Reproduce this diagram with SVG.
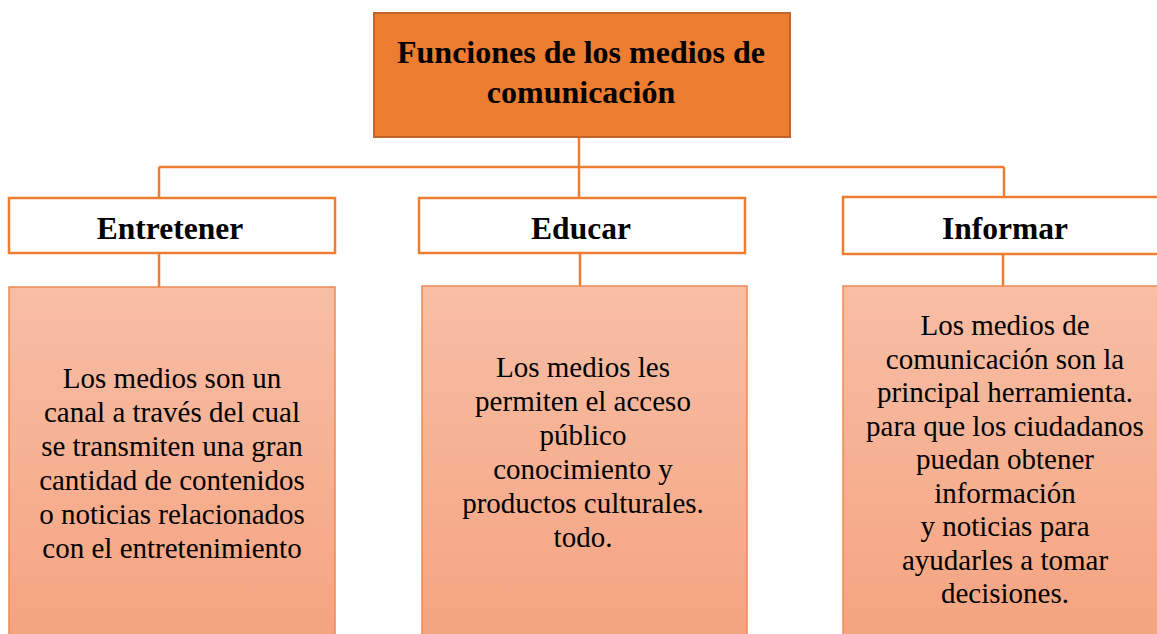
<svg xmlns="http://www.w3.org/2000/svg" width="1157" height="634" viewBox="0 0 1157 634">
<style>
.title{font-family:"Liberation Serif",serif;font-weight:bold;font-size:32px;fill:#000;text-anchor:middle}
.label{font-family:"Liberation Serif",serif;font-weight:bold;font-size:31.5px;fill:#000;text-anchor:middle}
.body{font-family:"Liberation Serif",serif;font-size:29px;fill:#000;text-anchor:middle}
.lbox{fill:#fff;stroke:#ED7D31;stroke-width:2.5}
.cbox{fill:url(#g);stroke:#F0894F;stroke-width:1.5}
.conn{stroke:#ED7D31;stroke-width:2.5;fill:none}
</style>
<defs>
<linearGradient id="g" x1="0" y1="0" x2="0" y2="1">
<stop offset="0" stop-color="#F7BEA6"/>
<stop offset="1" stop-color="#F5A37F"/>
</linearGradient>
</defs>
<rect width="1157" height="634" fill="#fff"/>
<g id="connectors">
<path class="conn" d="M579 137V198M159 167H1004M159 167V198M1004 167V198M159 253V287M580 253V286M1003 254V286"/>
</g>
<g id="root">
<rect x="374" y="13" width="416" height="124" fill="#ED7D31" stroke="#C0652C" stroke-width="2"/>
<text class="title" x="581" y="63">Funciones de los medios de</text>
<text class="title" x="581" y="103">comunicación</text>
</g>
<g id="entretener">
<rect class="lbox" x="9" y="198" width="326" height="55"/>
<text class="label" x="170" y="239">Entretener</text>
</g>
<g id="educar">
<rect class="lbox" x="419" y="198" width="326" height="55"/>
<text class="label" x="581" y="239">Educar</text>
</g>
<g id="informar">
<rect class="lbox" x="843" y="197" width="330" height="57"/>
<text class="label" x="1005" y="239">Informar</text>
</g>
<g id="entretener-desc">
<rect class="cbox" x="9" y="287" width="326" height="360"/>
<text class="body" x="172" y="388">Los medios son un</text>
<text class="body" x="172" y="422">canal a través del cual</text>
<text class="body" x="172" y="456">se transmiten una gran</text>
<text class="body" x="172" y="490">cantidad de contenidos</text>
<text class="body" x="172" y="524">o noticias relacionados</text>
<text class="body" x="172" y="558">con el entretenimiento</text>
</g>
<g id="educar-desc">
<rect class="cbox" x="422" y="286" width="325" height="360"/>
<text class="body" x="583" y="377">Los medios les</text>
<text class="body" x="583" y="411">permiten el acceso</text>
<text class="body" x="583" y="445">público</text>
<text class="body" x="583" y="479">conocimiento y</text>
<text class="body" x="583" y="513">productos culturales.</text>
<text class="body" x="583" y="547">todo.</text>
</g>
<g id="informar-desc">
<rect class="cbox" x="843" y="286" width="330" height="360"/>
<text class="body" x="1005" y="335">Los medios de</text>
<text class="body" x="1005" y="368.5">comunicación son la</text>
<text class="body" x="1005" y="402">principal herramienta.</text>
<text class="body" x="1005" y="435.5">para que los ciudadanos</text>
<text class="body" x="1005" y="469">puedan obtener</text>
<text class="body" x="1005" y="502.5">información</text>
<text class="body" x="1005" y="536">y noticias para</text>
<text class="body" x="1005" y="569.5">ayudarles a tomar</text>
<text class="body" x="1005" y="603">decisiones.</text>
</g>
</svg>
